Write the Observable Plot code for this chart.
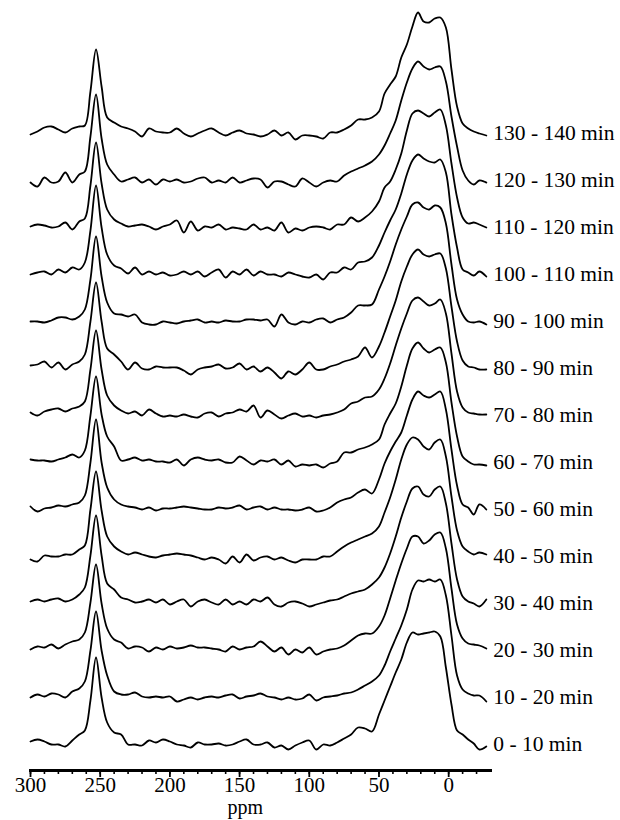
<!DOCTYPE html>
<html>
<head>
<meta charset="utf-8">
<script src="https://cdn.jsdelivr.net/npm/d3@7"></script>
<script src="https://cdn.jsdelivr.net/npm/@observablehq/plot@0.6"></script>
<style>
  html, body { margin: 0; padding: 0; background: #fff; }
  #chart { width: 620px; height: 820px; }
</style>
</head>
<body>
<div id="chart"></div>
<script>
// chemical shift grid (ppm), shared by all spectra
const ppm = [300,295,290,285,280,275,270,265,
  261,257,253,249,245,
  240,235,230,225,220,215,210,205,200,195,
  190,185,180,175,170,165,160,155,150,145,
  140,135,130,125,120,115,110,105,100,95,
  90,85,80,75,70,65,60,55,50,
  46,42,38,34,30,26,22,18,14,10,6,2,-2,-6,-10,-14,-18,-22,
  -27];

// time-slice labels, bottom to top
const labels = ["0 - 10 min","10 - 20 min","20 - 30 min","30 - 40 min","40 - 50 min",
  "50 - 60 min","60 - 70 min","70 - 80 min","80 - 90 min","90 - 100 min",
  "100 - 110 min","110 - 120 min","120 - 130 min","130 - 140 min"];

// intensities (arbitrary units), one array per spectrum
const s0 = [1,3,1,-2,-2,-4,2,8, 12,42,85,45,20,
  10,8,-2,-2,-3,2,0,3,1,-2, -3,-5,0,-2,-2,-1,-3,-2,1,3,
  -2,-2,0,-5,-3,-7,-3,0,2,-7, -2,-3,0,4,8,15,14,11,28,
  42,56,70,83,100,110,108,109,110,111,106,75,38,12,8,3,-1,-7, -4];
const s1 = [-2,1,-1,2,1,-2,4,7, 14,45,84,45,20,
  4,1,1,3,-1,-2,-1,-2,-1,-6, -4,-2,-4,-2,-1,-2,0,1,-3,-1,
  0,2,-1,-2,-4,-2,-4,-3,1,-5, -2,-1,0,2,3,6,10,14,20,
  30,44,57,70,86,106,115,114,116,114,116,100,60,20,6,2,0,0, -6];
const s2 = [-1,2,1,4,0,4,7,9, 16,46,84,45,20,
  9,6,0,2,1,-3,1,-1,2,0, 1,3,1,1,0,-1,-3,2,-1,1,
  2,7,2,-3,1,-6,-1,-4,1,-6, -3,-1,0,3,8,13,15,15,22,
  33,50,68,85,100,112,112,105,108,114,116,100,60,24,10,5,4,3, 0];
const s3 = [0,2,0,2,3,0,2,7, 14,46,86,46,18,
  12,4,2,-1,0,2,-1,2,-3,0, 2,-5,0,2,-1,-3,2,-3,0,-3,
  2,0,4,-3,-5,-1,0,-2,-5,-3, -1,1,2,5,8,10,12,17,24,
  34,48,65,84,100,113,115,107,105,112,115,98,58,22,5,0,-2,-5, 2];
const s4 = [-5,-7,-1,-2,-2,0,0,5, 9,45,83,44,18,
  8,3,0,2,0,-2,-3,-1,0,1, 0,-1,-3,-5,-3,-5,-9,-2,-8,0,
  -6,-3,-2,-5,-3,-6,-8,-5,-5,-5, -2,-2,3,8,12,15,18,21,28,
  42,57,75,95,110,117,115,108,105,112,115,98,58,24,8,3,0,2, 0];
const s5 = [1,-4,-1,0,2,1,3,5, 12,45,88,45,20,
  8,3,1,0,-2,0,-3,-1,-1,0, 1,0,-1,-2,-2,0,-1,0,2,-2,
  0,1,-2,0,-2,-2,-3,-2,0,-4, -3,0,5,8,10,15,18,14,28,
  44,56,66,75,92,108,116,112,110,113,116,98,58,22,3,0,-7,3, -2];
const s6 = [1,0,0,-1,1,3,6,3, 10,45,84,46,24,
  14,0,1,3,0,1,-1,-1,-2,1, -5,1,3,1,0,1,-2,-2,4,0,
  -4,0,-1,1,-4,0,-6,-4,-5,-4, -7,-3,-1,8,8,11,13,16,21,
  36,47,57,74,95,112,118,112,108,111,113,98,58,24,4,-1,-4,-4, -5];
const s7 = [1,-2,2,4,5,2,5,7, 12,44,83,44,18,
  8,3,0,2,-2,4,0,-3,-2,-3, -1,-3,-4,0,1,-3,0,1,4,2,
  8,-4,3,-1,-5,-2,0,-3,-2,-4, -2,-1,1,4,10,12,16,17,24,
  35,50,68,85,100,113,116,112,108,110,114,100,60,22,6,1,0,-1, -1];
const s8 = [1,2,5,-1,4,-3,2,5, 12,45,84,45,18,
  12,5,-3,4,-2,-3,0,-1,-1,-1, -4,-8,-3,-1,0,2,-2,-1,3,-3,
  0,-5,-1,-6,-12,-5,-8,-3,4,-3, -3,0,2,5,7,10,19,9,20,
  34,50,66,85,100,112,117,112,110,112,113,98,60,25,6,0,-1,-3, -3];
const s9 = [-2,-2,-3,-1,2,2,0,3, 10,40,83,43,17,
  6,5,3,5,-3,-5,-5,-2,-3,-4, -2,-1,0,-3,-2,-3,-1,-2,-2,0,
  0,-1,0,-7,5,-3,-5,-2,-3,0, 1,-3,0,2,7,14,14,15,30,
  43,58,75,90,103,115,117,112,110,114,112,96,55,20,5,-2,-3,-2, -5];
const s10 = [-2,0,1,-2,3,0,5,3, 10,42,87,45,18,
  7,4,-1,5,-2,1,-2,0,-3,-2, 1,-2,1,-4,0,3,-5,1,-2,3,
  -3,1,-2,-2,-4,0,-2,-4,-5,-2, -7,0,0,5,3,10,11,15,27,
  40,52,63,79,98,112,118,114,111,110,113,100,58,25,3,0,-3,1, -4];
const s11 = [-1,1,0,-2,-1,3,-4,4, 7,40,83,42,16,
  6,2,-1,0,1,-1,-4,-1,1,5, -7,4,-5,-1,-2,1,-4,-2,-3,-4,
  1,-4,-2,-5,3,-7,-3,-5,-2,-1, -2,-4,1,1,8,4,8,14,24,
  38,44,56,72,95,112,115,112,109,113,116,100,62,28,8,2,3,1, -2];
const s12 = [-4,-8,1,-4,-3,6,-4,4, 7,42,84,40,14,
  4,-3,-1,1,-4,-1,-6,-1,-3,-1, -4,-3,0,1,-4,-2,-4,1,-4,-2,
  0,-1,-9,-3,-3,-6,-8,0,-4,-8, -4,-2,-3,3,7,10,13,17,24,
  33,45,58,78,96,110,117,112,109,111,112,97,62,32,8,-2,-6,-2, -4];
const s13 = [-3,0,4,5,2,-1,3,5, 6,40,82,45,14,
  9,5,3,0,-5,3,0,-1,-1,3, -2,-5,-2,1,3,-1,-4,-1,1,-2,
  -3,-5,-3,1,-4,-1,-8,-4,-4,-5, -7,-1,-1,2,6,12,12,14,20,
  38,47,55,74,87,105,119,110,109,113,114,104,62,25,8,3,0,-2, -4];

const spectra = [s0,s1,s2,s3,s4,s5,s6,s7,s8,s9,s10,s11,s12,s13];

// axis ticks
const majorTicks = [300,250,200,150,100,50,0];
const minorTicks = d3.range(-20, 301, 10);
const axisTitle = ["ppm"];
const axisTitleAt = [146];

// stacking
const step = 47;
const rows = spectra.flatMap((s, i) => s.map((v, j) => ({ppm: ppm[j], y: v + i * step, trace: i})));
const ends = spectra.map((s, i) => ({ppm: ppm[ppm.length - 1], y: i * step, label: labels[i]}));

const chart = Plot.plot({
  width: 620,
  height: 820,
  marginLeft: 30,
  marginRight: 130,
  marginTop: 2,
  marginBottom: 50,
  style: {fontFamily: "'Liberation Serif', 'DejaVu Serif', serif", fontSize: "21px", color: "#000", background: "#fff"},
  x: {domain: [300, -30]},
  y: {domain: [-28, 740], axis: null},
  marks: [
    Plot.line(rows, {x: "ppm", y: "y", z: "trace", curve: "catmull-rom", stroke: "#000", strokeWidth: 1.8, strokeLinejoin: "round"}),
    Plot.text(ends, {x: "ppm", y: "y", text: "label", textAnchor: "start", dx: 7, dy: 2, fontSize: 21.5, fill: "#000"}),
    Plot.frame({anchor: "bottom", strokeWidth: 3, stroke: "#000"}),
    Plot.axisX({ticks: minorTicks, tickSize: 4, tickFormat: () => "", label: null, strokeWidth: 1.6}),
    Plot.axisX({ticks: majorTicks, tickSize: 7, tickPadding: 0, fontSize: 21, label: null, strokeWidth: 1.8}),
    Plot.text(axisTitle, {x: axisTitleAt, frameAnchor: "bottom", dy: 43, fontSize: 20, fill: "#000"})
  ]
});
document.getElementById("chart").append(chart);
</script>
</body>
</html>
